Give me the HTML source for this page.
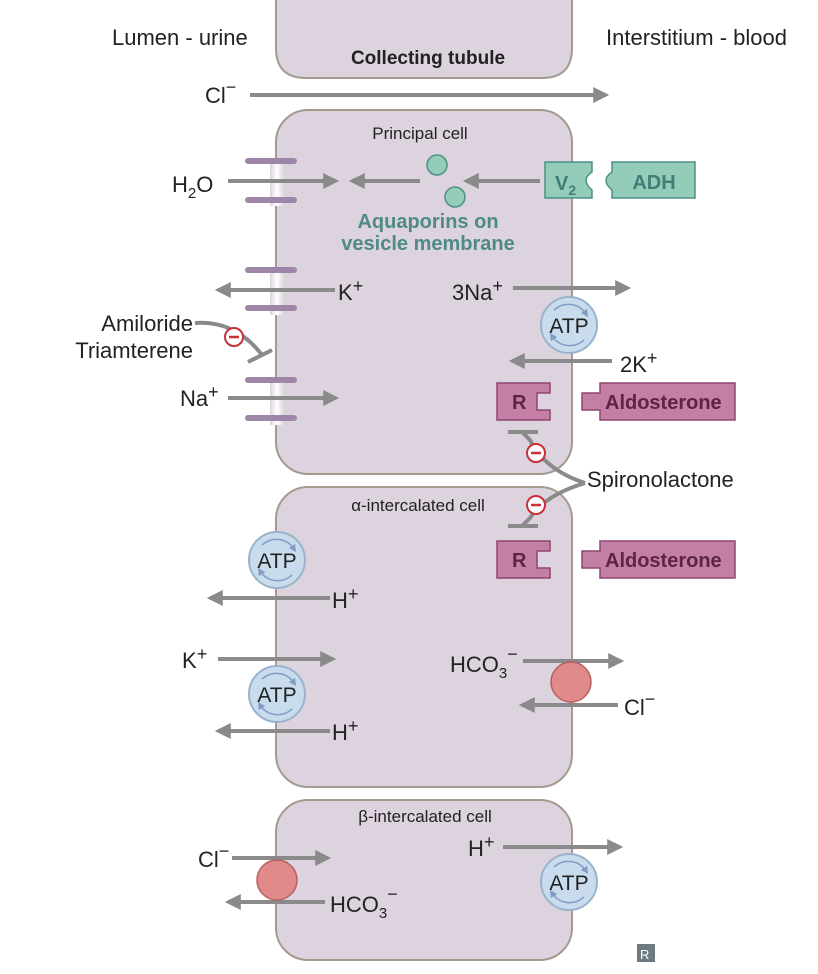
<!DOCTYPE html>
<html><head><meta charset="utf-8"><style>
html,body{margin:0;padding:0;background:#fff}
svg{display:block}
text{font-family:"Liberation Sans Narrow","Liberation Sans",sans-serif;fill:#222}
</style></head><body>
<svg width="818" height="974" viewBox="0 0 818 974">
<defs>
<marker id="ah" viewBox="0 0 10 10" refX="8" refY="5" markerWidth="4" markerHeight="4" orient="auto"><path d="M0,0L10,5L0,10z" fill="#8a8a8a"/></marker>
<marker id="sah" viewBox="0 0 10 10" refX="5" refY="5" markerWidth="5" markerHeight="5" orient="auto"><path d="M0,0L10,5L0,10z" fill="#7f9cc4"/></marker>
<linearGradient id="mg" x1="0" x2="1"><stop offset="0" stop-color="#ddd3de"/><stop offset="0.5" stop-color="#fff"/><stop offset="1" stop-color="#ddd3de"/></linearGradient>
<g id="atp">
<circle r="28" fill="#c9dced" stroke="#9ab3cc" stroke-width="2"/>
<path d="M-15,-15 A21,21 0 0 1 17,-11" fill="none" stroke="#7f9cc4" stroke-width="1.5" marker-end="url(#sah)"/>
<path d="M15,15 A21,21 0 0 1 -17,11" fill="none" stroke="#7f9cc4" stroke-width="1.5" marker-end="url(#sah)"/>
<text y="8" font-size="21" text-anchor="middle">ATP</text>
</g>
</defs>
<g fill="#ddd3de" stroke="#a49a8e" stroke-width="2">
<path d="M276,0 V48 Q276,78 306,78 H542 Q572,78 572,48 V0"/>
<rect x="276" y="110" width="296" height="364" rx="32"/>
<rect x="276" y="487" width="296" height="300" rx="32"/>
<rect x="276" y="800" width="296" height="160" rx="32"/>
</g>
<g>
<rect x="270" y="158" width="14" height="48" fill="url(#mg)"/><rect x="270" y="267" width="14" height="48" fill="url(#mg)"/><rect x="270" y="377" width="14" height="48" fill="url(#mg)"/>
<g fill="#9e86a8"><rect x="245" y="158" width="52" height="6" rx="3"/><rect x="245" y="197" width="52" height="6" rx="3"/><rect x="245" y="267" width="52" height="6" rx="3"/><rect x="245" y="305" width="52" height="6" rx="3"/><rect x="245" y="377" width="52" height="6" rx="3"/><rect x="245" y="415" width="52" height="6" rx="3"/></g>
</g>
<text x="112" y="45" font-size="22">Lumen - urine</text>
<text x="606" y="45" font-size="22">Interstitium - blood</text>
<text x="428" y="64" font-size="19" font-weight="bold" text-anchor="middle">Collecting tubule</text>
<text x="420" y="139" font-size="17" text-anchor="middle">Principal cell</text>
<text x="418" y="511" font-size="17" text-anchor="middle">α-intercalated cell</text>
<text x="425" y="822" font-size="17" text-anchor="middle">β-intercalated cell</text>
<g stroke="#8a8a8a" stroke-width="4" marker-end="url(#ah)" fill="none">
<line x1="250" y1="95" x2="606" y2="95"/>
<line x1="228" y1="181" x2="336" y2="181"/>
<line x1="420" y1="181" x2="352" y2="181"/>
<line x1="540" y1="181" x2="466" y2="181"/>
<line x1="335" y1="290" x2="218" y2="290"/>
<line x1="513" y1="288" x2="628" y2="288"/>
<line x1="612" y1="361" x2="512" y2="361"/>
<line x1="228" y1="398" x2="336" y2="398"/>
<line x1="330" y1="598" x2="210" y2="598"/>
<line x1="218" y1="659" x2="333" y2="659"/>
<line x1="330" y1="731" x2="218" y2="731"/>
<line x1="523" y1="661" x2="621" y2="661"/>
<line x1="618" y1="705" x2="522" y2="705"/>
<line x1="232" y1="858" x2="328" y2="858"/>
<line x1="325" y1="902" x2="228" y2="902"/>
<line x1="503" y1="847" x2="620" y2="847"/>
</g>
<g font-size="22">
<text x="205" y="103">Cl<tspan dy="-10" font-size="18">−</tspan></text>
<text x="172" y="192">H<tspan dy="6" font-size="15">2</tspan><tspan dy="-6">O</tspan></text>
<text x="338" y="300">K<tspan dy="-8" font-size="18">+</tspan></text>
<text x="452" y="300">3Na<tspan dy="-8" font-size="18">+</tspan></text>
<text x="620" y="372">2K<tspan dy="-8" font-size="18">+</tspan></text>
<text x="180" y="406">Na<tspan dy="-8" font-size="18">+</tspan></text>
<text x="193" y="331" text-anchor="end">Amiloride</text>
<text x="193" y="358" text-anchor="end">Triamterene</text>
<text x="587" y="487">Spironolactone</text>
<text x="332" y="608">H<tspan dy="-8" font-size="18">+</tspan></text>
<text x="182" y="668">K<tspan dy="-8" font-size="18">+</tspan></text>
<text x="332" y="740">H<tspan dy="-8" font-size="18">+</tspan></text>
<text x="450" y="672">HCO<tspan dy="6" font-size="15">3</tspan><tspan dy="-18" font-size="18">−</tspan></text>
<text x="624" y="715">Cl<tspan dy="-10" font-size="18">−</tspan></text>
<text x="198" y="867">Cl<tspan dy="-10" font-size="18">−</tspan></text>
<text x="330" y="912">HCO<tspan dy="6" font-size="15">3</tspan><tspan dy="-18" font-size="18">−</tspan></text>
<text x="468" y="856">H<tspan dy="-8" font-size="18">+</tspan></text>
</g>
<g fill="#93cdb9" stroke="#4e8f87" stroke-width="1.5">
<circle cx="437" cy="165" r="10"/><circle cx="455" cy="197" r="10"/>
</g>
<text x="428" y="228" font-size="20" font-weight="bold" text-anchor="middle" style="fill:#4e8a86">Aquaporins on</text>
<text x="428" y="250" font-size="20" font-weight="bold" text-anchor="middle" style="fill:#4e8a86">vesicle membrane</text>
<g fill="#93cdb9" stroke="#4e8f87" stroke-width="1.5">
<path d="M545,162 H592 V172 Q580,180 592,190 V198 H545 Z"/>
<path d="M612,162 H695 V198 H612 V190 Q600,180 612,172 Z"/>
</g>
<text x="555" y="190" font-size="20" font-weight="bold" style="fill:#3f7f78">V<tspan dy="5" font-size="14">2</tspan></text>
<text x="654" y="189" font-size="20" font-weight="bold" text-anchor="middle" style="fill:#3f7f78">ADH</text>
<g fill="#c47fa5" stroke="#8f4670" stroke-width="1.5">
<path d="M497,383 H550 V393 H537 V410 H550 V420 H497 Z"/>
<path d="M600,383 H735 V420 H600 V410 H582 V393 H600 Z"/>
<path d="M497,541 H550 V551 H537 V568 H550 V578 H497 Z"/>
<path d="M600,541 H735 V578 H600 V568 H582 V551 H600 Z"/>
</g>
<g font-size="20" font-weight="bold">
<text x="512" y="409" style="fill:#5d2448">R</text><text x="605" y="409" style="fill:#5d2448">Aldosterone</text>
<text x="512" y="567" style="fill:#5d2448">R</text><text x="605" y="567" style="fill:#5d2448">Aldosterone</text>
</g>
<g>
<use href="#atp" x="569" y="325"/><use href="#atp" x="277" y="560"/><use href="#atp" x="277" y="694"/><use href="#atp" x="569" y="882"/>
</g>
<g fill="#e08a8a" stroke="#b86060" stroke-width="1.5">
<circle cx="571" cy="682" r="20"/><circle cx="277" cy="880" r="20"/>
</g>
<g fill="none" stroke="#8a8a8a" stroke-width="4">
<path d="M195,323 Q235,320 262,355"/><line x1="248" y1="362" x2="272" y2="350"/>
<path d="M585,483 Q545,470 530,440 L522,432"/><line x1="508" y1="432" x2="538" y2="432"/>
<path d="M585,483 Q545,495 530,518 L522,526"/><line x1="508" y1="526" x2="538" y2="526"/>
</g>
<g fill="#fff" stroke="#c8303a" stroke-width="2">
<circle cx="234" cy="337" r="9"/><circle cx="536" cy="453" r="9"/><circle cx="536" cy="505" r="9"/>
</g>
<g stroke="#c8303a" stroke-width="2.5"><line x1="229" y1="337" x2="239" y2="337"/><line x1="531" y1="453" x2="541" y2="453"/><line x1="531" y1="505" x2="541" y2="505"/></g>
<rect x="637" y="944" width="18" height="18" fill="#6d7b80"/>
<text x="640" y="959" font-size="13" style="fill:#fff">R</text>
</svg>
</body></html>
